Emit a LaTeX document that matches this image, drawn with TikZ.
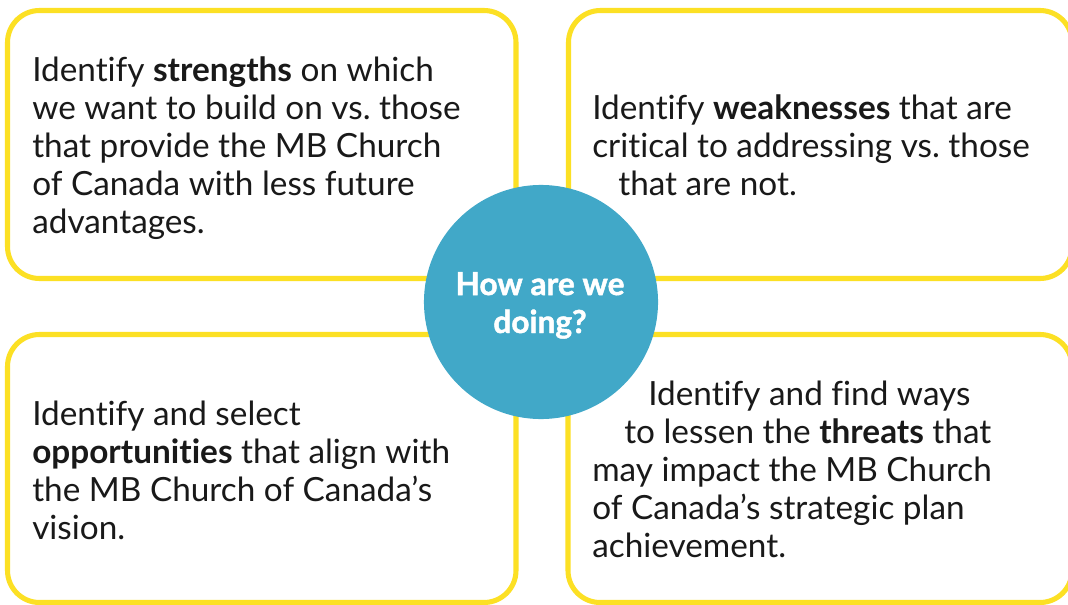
\documentclass[tikz,border=0pt]{standalone}
\usepackage{fontspec}
\setmainfont{Lato}[Ligatures=NoCommon]
\usetikzlibrary{positioning}
\definecolor{swotyellow}{HTML}{FCE024}
\definecolor{swotblue}{HTML}{41A8C8}
\frenchspacing

\begin{document}
\begin{tikzpicture}[x=0.025cm, y=-0.025cm,
    box/.style={draw=swotyellow, line width=3.6pt, rounded corners=0.8cm},
    txt/.style={anchor=base west, align=left, inner sep=0pt, text=black!90, font=\fontsize{23.7}{27}\selectfont},
    hubtxt/.style={anchor=base, align=center, inner sep=0pt, text=white, font=\fontsize{22.5}{27}\selectfont\bfseries\addfontfeature{FakeBold=1.5}}]
    \clip (0,0) rectangle (1068,605);
    \fill[white] (0,0) rectangle (1068,605);
    \draw[box] (7.5,10.5) rectangle (516,278.5); % strengths
    \draw[box] (568.5,10.5) rectangle (1072,278.5); % weaknesses
    \draw[box] (7.5,334.5) rectangle (516,602.5); % opportunities
    \draw[box] (568,334.5) rectangle (1072,602.5); % threats
    \node[circle, fill=swotblue, minimum size=5.85cm, inner sep=0pt] (hub) at (541,302) {};
    % base anchor = last line
    \node[hubtxt] (hublabel) at (540,333) {How are we\\doing?};
    \node[txt] (strengths) at (32,233) {Identify \textbf{strengths} on which\\we want to build on vs. those\\that provide the MB Church\\of Canada with less future\\advantages.};
    \node[txt] (weaknesses) at (592,195) {Identify \textbf{weaknesses} that are\\critical to addressing vs. those\\\hspace*{0.65cm}that are not.};
    \node[txt] (opportunities) at (32,539) {Identify and select\\\textbf{opportunities} that align with\\the MB Church of Canada’s\\vision.};
    \node[txt] (threats) at (592,557) {\hspace*{1.4cm}Identify and find ways\\\hspace*{0.8cm}to lessen the \textbf{threats} that\\may impact the MB Church\\of Canada’s strategic plan\\achievement.};
\end{tikzpicture}
\end{document}
